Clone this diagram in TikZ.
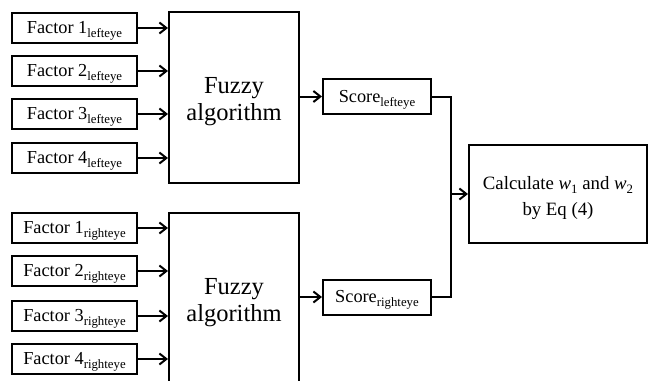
\documentclass[tikz,border=0pt]{standalone}
\usepackage{fontspec}
\setmainfont{Liberation Serif}
\usetikzlibrary{arrows.meta}
% subscript in text font, smaller and lowered, without adding to the line depth
\newcommand{\sbs}[1]{\raisebox{-0.45ex}[0pt][0pt]{\fontsize{12.8}{13}\selectfont #1}}
% extra head room on a first line, pushing a two-line label downwards
\newcommand{\toppad}[1]{\rule{0pt}{#1}}
\begin{document}
\begin{tikzpicture}[x=1pt,y=-1pt,
  line width=2pt,
  box/.style={draw, inner sep=0pt, align=center},
  factor/.style={box, minimum width=125pt, minimum height=30pt, font=\fontsize{18.3}{20}\selectfont},
  fuzzy/.style={box, minimum width=130pt, minimum height=171pt, font=\fontsize{24.5}{27}\selectfont},
  score/.style={box, minimum width=108pt, minimum height=35pt, font=\fontsize{18.3}{20}\selectfont},
  calcbox/.style={box, minimum width=178pt, minimum height=98pt, font=\fontsize{18.8}{26}\selectfont},
  arr/.style={-{Straight Barb[length=7pt,width=11pt,line width=2pt]}}]
\path[use as bounding box] (0,0) rectangle (650,380);
\clip (0,0) rectangle (650,380);

% left-eye branch
\node[factor] (fl1) at (74.5,28)  {Factor 1\sbs{lefteye}};
\node[factor] (fl2) at (74.5,71)  {Factor 2\sbs{lefteye}};
\node[factor] (fl3) at (74.5,114) {Factor 3\sbs{lefteye}};
\node[factor] (fl4) at (74.5,158) {Factor 4\sbs{lefteye}};
\node[fuzzy]  (zl)  at (234,97.5) {\toppad{25pt}Fuzzy\\algorithm};
\node[score]  (sl)  at (377,96.5) {Score\sbs{lefteye}};

% right-eye branch
\node[factor] (fr1) at (74.5,228) {Factor 1\sbs{righteye}};
\node[factor] (fr2) at (74.5,271) {Factor 2\sbs{righteye}};
\node[factor] (fr3) at (74.5,316) {Factor 3\sbs{righteye}};
\node[factor] (fr4) at (74.5,359) {Factor 4\sbs{righteye}};
\node[fuzzy]  (zr)  at (234,298.5) {\toppad{25pt}Fuzzy\\algorithm};
\node[score]  (sr)  at (377,297) {Score\sbs{righteye}};

% result
\node[calcbox] (cw) at (558,194) {\toppad{21pt}Calculate \textit{w}\sbs{1} and \textit{w}\sbs{2}\\by Eq (4)};
\coordinate (j) at (451,194);

% connectors
\foreach \f in {fl1,fl2,fl3,fl4} \draw[arr] (\f.east) -- (\f.east -| zl.west);
\foreach \f in {fr1,fr2,fr3,fr4} \draw[arr] (\f.east) -- (\f.east -| zr.west);
\draw[arr] (sl.west -| zl.east) -- (sl.west);
\draw[arr] (sr.west -| zr.east) -- (sr.west);
\draw (sl.east) -| (j);
\draw (sr.east) -| (j);
\draw[arr] (j) -- (cw.west);
\end{tikzpicture}
\end{document}
